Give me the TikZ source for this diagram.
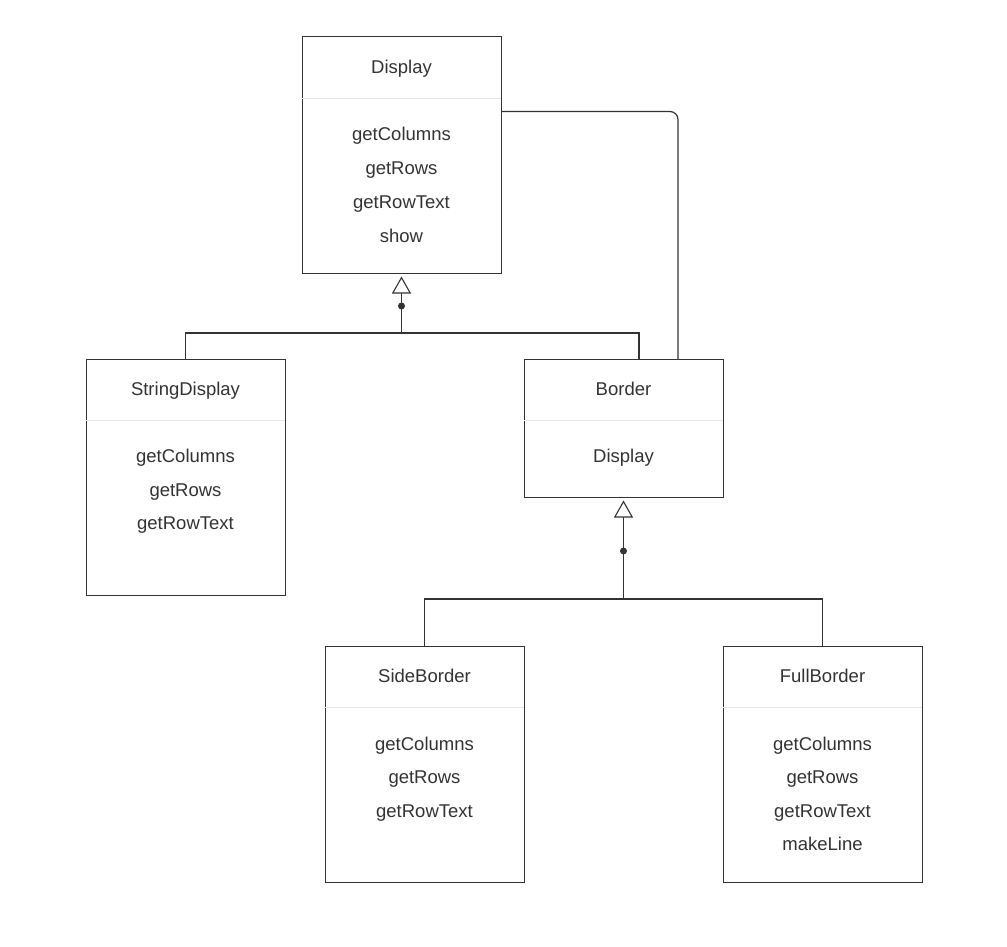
\documentclass[tikz,border=0pt]{standalone}
\usepackage{fontspec}
\setmainfont{Liberation Sans}
\usetikzlibrary{arrows.meta,calc}
\definecolor{ink}{HTML}{333333}
\definecolor{sepc}{HTML}{E6E6E6}
\tikzset{
  umlbox/.style={draw=ink, line width=1pt, minimum width=199pt, inner sep=0pt, fill=white},
  sepline/.style={draw=sepc, line width=1pt},
  lbl/.style={text=ink, font=\fontsize{18.5}{20}\selectfont, inner sep=0pt, anchor=base},
  conn/.style={draw=ink, line width=1.2pt},
  inh/.style={conn, -{Triangle[open, width=19pt, length=17pt, line width=1.1pt]}, shorten >=3pt},
  dotc/.style={fill=ink, circle, inner sep=0pt, minimum size=7pt}
}
\begin{document}
\begin{tikzpicture}[x=1pt, y=-1pt]
\useasboundingbox (0,0) rectangle (1007,947);
% boxes
\node[umlbox, minimum height=236pt] (display) at (401.5,155) {};
\node[umlbox, minimum height=236pt] (strdisp) at (185.5,477) {};
\node[umlbox, minimum height=138pt] (border) at (623.5,428) {};
\node[umlbox, minimum height=236pt] (side) at (424.5,764) {};
\node[umlbox, minimum height=236pt] (full) at (822.5,764) {};
% separators
\foreach \b in {display,strdisp,border,side,full}
  \draw[sepline] ($(\b.north west)+(0.6,62)$) -- ($(\b.north east)+(-0.6,62)$);
% texts
\node[lbl] (t1) at (401.5,74) {Display};
\node[lbl] (t1a) at (401.5,141) {getColumns};
\node[lbl] (t1b) at (401.5,174.7) {getRows};
\node[lbl] (t1c) at (401.5,208.4) {getRowText};
\node[lbl] (t1d) at (401.5,242.1) {show};
\node[lbl] (t2) at (185.5,395.5) {StringDisplay};
\node[lbl] (t2a) at (185.5,462.5) {getColumns};
\node[lbl] (t2b) at (185.5,496.2) {getRows};
\node[lbl] (t2c) at (185.5,529.9) {getRowText};
\node[lbl] (t3) at (623.5,395.5) {Border};
\node[lbl] (t3a) at (623.5,462.5) {Display};
\node[lbl] (t4) at (424.5,682) {SideBorder};
\node[lbl] (t4a) at (424.5,750) {getColumns};
\node[lbl] (t4b) at (424.5,783.5) {getRows};
\node[lbl] (t4c) at (424.5,817) {getRowText};
\node[lbl] (t5) at (822.5,682) {FullBorder};
\node[lbl] (t5a) at (822.5,750) {getColumns};
\node[lbl] (t5b) at (822.5,783.5) {getRows};
\node[lbl] (t5c) at (822.5,817) {getRowText};
\node[lbl] (t5d) at (822.5,850.5) {makeLine};
% inheritance 1
\coordinate (j1) at (401.5,333);
\coordinate (b1) at (639,359);
\draw[conn] (strdisp.north) -- (strdisp.north |- j1) -- (b1 |- j1) -- (b1);
\draw[inh] (j1) -- (display.south);
\node[dotc] (d1) at (401.5,306) {};
% inheritance 2
\coordinate (j2) at (623.5,599);
\draw[conn] (side.north) -- (side.north |- j2) -- (full.north |- j2) -- (full.north);
\draw[inh] (j2) -- (border.south);
\node[dotc] (d2) at (623.5,551) {};
% association
\coordinate (a0) at ($(display.north east)+(0,75)$);
\coordinate (a1) at (678,359);
\draw[conn, rounded corners=8pt] (a0) -- (a0 -| a1) -- (a1);
\end{tikzpicture}
\end{document}
